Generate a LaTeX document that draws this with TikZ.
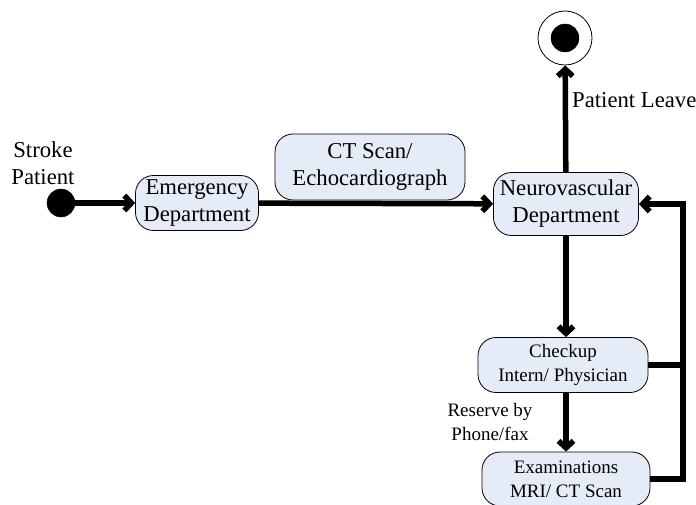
\documentclass[tikz,border=0pt]{standalone}
\usepackage{fontspec}
\setmainfont{Liberation Serif}
\usepackage{tikz}
\usetikzlibrary{positioning}
\usetikzlibrary{arrows.meta,shapes}
\definecolor{actfill}{RGB}{229,235,247}
\newcommand{\bigtxt}{\fontsize{22.7}{27}\selectfont}
\newcommand{\smalltxt}{\fontsize{19}{24}\selectfont}
\tikzstyle{activity}=[rectangle,rounded corners=18pt,fill=actfill,draw=black,line width=0.8pt,align=center,inner sep=0pt]
\tikzstyle{startstate}=[circle,fill=black,draw=black,minimum size=28pt,inner sep=0pt]
\tikzstyle{stopstate}=[circle,fill=white,draw=black,line width=0.8pt,minimum size=54pt,inner sep=0pt]
\tikzstyle{flow} = [draw,line width=5.5pt,-{Straight Barb[length=7pt,width=15pt]}]
\tikzstyle{plainflow} = [draw,line width=5.5pt]
\tikzstyle{tag} = [align=center,inner sep=0pt]

\begin{document}
\begin{tikzpicture}[x=1pt,y=-1pt]
    \useasboundingbox (0,0) rectangle (696,505);
    % Start and end of the patient flow
    \node[startstate] (start) at (61,203) {};
    \node[tag,font=\bigtxt] (strokept) at (43,163) {Stroke\\Patient};
    \node[stopstate] (stop) at (565,38) {};
    \node[startstate] (stopdot) at (stop) {};

    % Then the activities
    \foreach \pos/\name/\w/\h/\label in {{(197,203)/emerg/123pt/55pt/{Emergency\\Department}},
        {(370,167)/ctscan/190pt/66pt/{CT Scan/\\Echocardiograph}}, {(566,204)/neuro/145pt/63pt/{Neurovascular\\Department}}}
        \node[activity,font=\bigtxt,minimum width=\w,minimum height=\h] (\name) at \pos {\label};

    \foreach \pos/\name/\w/\h/\label in {{(563,365)/checkup/170pt/55pt/{Checkup\\Intern/ Physician}},
        {(566,479)/exam/168pt/54pt/{Examinations\\MRI/ CT Scan}}}
        \node[activity,font=\smalltxt,minimum width=\w,minimum height=\h] (\name) at \pos {\label};

    % Connect the activities
    \foreach \source/ \dest in {start/emerg, emerg/neuro, neuro/stop}
        \path[flow] (\source) -- (\dest);
    \path[flow] (neuro) -- (neuro|-checkup.north);
    \path[flow] (neuro|-checkup.south) -- (neuro|-exam.north);

    % Back to the neurovascular department
    \coordinate (back) at (683,204);
    \path[plainflow] (checkup.east) -- (checkup.east -| back);
    \path[flow] (exam.east) -| (back) -- (neuro.east);

    % Labels on the connectors
    \node[tag,font=\bigtxt,anchor=west] (leave) at (572,100) {Patient Leave};
    \node[tag,font=\smalltxt] (reserve) at (490,422) {Reserve by\\Phone/fax};
\end{tikzpicture}
\end{document}
